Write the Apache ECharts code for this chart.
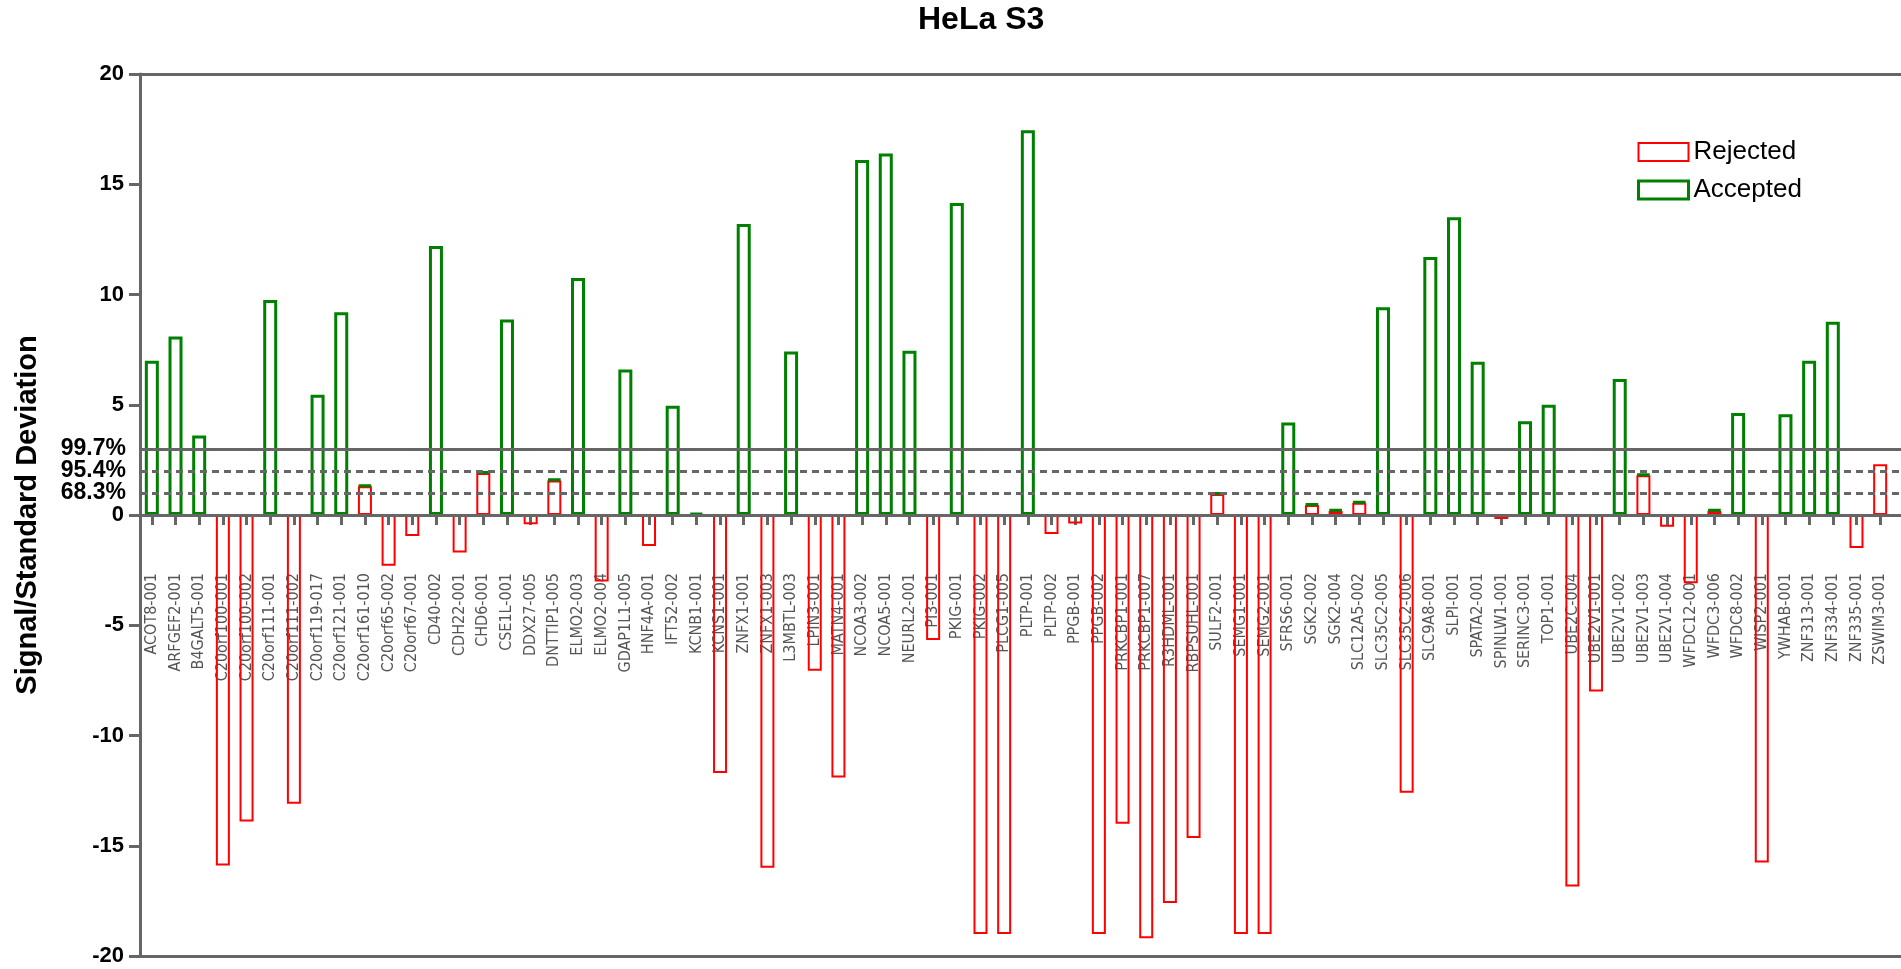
<!DOCTYPE html>
<html>
<head>
<meta charset="utf-8">
<script src="https://cdn.jsdelivr.net/npm/echarts@6/dist/echarts.min.js"></script>
<style>
  html, body { margin: 0; padding: 0; background: #ffffff; }
  #chart { width: 1901px; height: 969px; }
</style>
</head>
<body>
<div id="chart"></div>
<script>
// Gene transcripts along the x axis
const categories = [
  'ACOT8-001', 'ARFGEF2-001', 'B4GALT5-001', 'C20orf100-001', 'C20orf100-002',
  'C20orf111-001', 'C20orf111-002', 'C20orf119-017', 'C20orf121-001', 'C20orf161-010',
  'C20orf65-002', 'C20orf67-001', 'CD40-002', 'CDH22-001', 'CHD6-001',
  'CSE1L-001', 'DDX27-005', 'DNTTIP1-005', 'ELMO2-003', 'ELMO2-004',
  'GDAP1L1-005', 'HNF4A-001', 'IFT52-002', 'KCNB1-001', 'KCNS1-001',
  'ZNFX1-001', 'ZNFX1-003', 'L3MBTL-003', 'LPIN3-001', 'MATN4-001',
  'NCOA3-002', 'NCOA5-001', 'NEURL2-001', 'PI3-001', 'PKIG-001',
  'PKIG-002', 'PLCG1-005', 'PLTP-001', 'PLTP-002', 'PPGB-001',
  'PPGB-002', 'PRKCBP1-001', 'PRKCBP1-007', 'R3HDML-001', 'RBPSUHL-001',
  'SULF2-001', 'SEMG1-001', 'SEMG2-001', 'SFRS6-001', 'SGK2-002',
  'SGK2-004', 'SLC12A5-002', 'SLC35C2-005', 'SLC35C2-006', 'SLC9A8-001',
  'SLPI-001', 'SPATA2-001', 'SPINLW1-001', 'SERINC3-001', 'TOP1-001',
  'UBE2C-004', 'UBE2V1-001', 'UBE2V1-002', 'UBE2V1-003', 'UBE2V1-004',
  'WFDC12-001', 'WFDC3-006', 'WFDC8-002', 'WISP2-001', 'YWHAB-001',
  'ZNF313-001', 'ZNF334-001', 'ZNF335-001', 'ZSWIM3-001'
];

// Signal / standard deviation, rejected calls (null = no bar)
const rejected = [
  null, null, null, -15.9, -13.9,
  null, -13.1, null, null, 1.3,
  -2.3, -0.95, null, -1.7, 1.9,
  null, -0.42, 1.57, null, -3.02,
  null, -1.41, null, null, -11.7,
  null, -16.0, null, -7.06, -11.9,
  null, null, null, -5.67, null,
  -19.0, -19.0, null, -0.86, -0.38,
  -19.0, -14.0, -19.2, -17.6, -14.65,
  0.95, -19.0, -19.0, null, 0.45,
  0.18, 0.55, null, -12.6, null,
  null, null, -0.18, null, null,
  -16.85, -8.0, null, 1.8, -0.53,
  -3.1, 0.18, null, -15.76, null,
  null, null, -1.5, 2.3
];

// Signal / standard deviation, accepted calls (stacked on the rejected part)
const accepted = [
  7.0, 8.1, 3.6, null, null,
  9.75, null, 5.45, 9.2, 0.06,
  null, null, 12.2, null, 0.06,
  8.87, null, 0.06, 10.75, null,
  6.6, null, 4.96, 0.08, null,
  13.2, null, 7.42, null, null,
  16.1, 16.4, 7.45, null, 14.15,
  null, null, 17.45, null, null,
  null, null, null, null, null,
  0.06, null, null, 4.2, 0.06,
  0.06, 0.06, 9.42, null, 11.7,
  13.5, 6.95, null, 4.25, 5.0,
  null, null, 6.17, 0.06, null,
  null, 0.06, 4.63, null, 4.57,
  7.0, 8.76, null, null
];

// Confidence thresholds (in standard deviations)
const thresholdValues = [3, 2, 1];
const thresholdLabels = ['99.7%', '95.4%', '68.3%'];

const axisGrey = '#666666';
const yMin = -20, yMax = 20, yStep = 5;
const gridTop = 74, gridBottom = 13;

const chart = echarts.init(document.getElementById('chart'));

// The category axis sits on the zero line of the value axis
const plotHeight = chart.getHeight() - gridTop - gridBottom;
const zeroOffset = -plotHeight * (0 - yMin) / (yMax - yMin);

const thresholdLines = thresholdValues.map((v, i) => ({
  yAxis: v,
  label: { formatter: thresholdLabels[i] },
  lineStyle: { type: i === 0 ? 'solid' : [7, 5] }
}));
thresholdLines.push({ yAxis: 0, label: { show: false }, lineStyle: { type: 'solid' } });

chart.setOption({
  animation: false,
  backgroundColor: '#ffffff',
  title: {
    text: 'HeLa S3',
    left: 918,
    top: 4,
    padding: 0,
    textStyle: { fontFamily: 'Liberation Sans', fontWeight: 'bold', fontSize: 32, color: '#000' }
  },
  legend: {
    orient: 'vertical',
    left: 1632,
    top: 134,
    itemWidth: 50,
    itemHeight: 18,
    itemGap: 12,
    icon: 'rect',
    textStyle: { fontFamily: 'Liberation Sans', fontSize: 26, color: '#000' },
    data: [
      { name: 'Rejected', itemStyle: { color: 'rgba(0,0,0,0)', borderColor: '#ff0000', borderWidth: 2 } },
      { name: 'Accepted', itemStyle: { color: 'rgba(0,0,0,0)', borderColor: '#008000', borderWidth: 3 } }
    ]
  },
  grid: [
    { left: 140, right: 9, top: gridTop, bottom: gridBottom, containLabel: false, outerBoundsMode: 'none' },
    { left: 140, right: 0, top: gridTop, bottom: gridBottom, containLabel: false, outerBoundsMode: 'none' }
  ],
  xAxis: [
    {
      type: 'category',
      gridIndex: 0,
      data: categories,
      position: 'bottom',
      offset: zeroOffset,
      axisLine: { show: true, onZero: false, lineStyle: { color: axisGrey, width: 3 } },
      axisTick: { show: true, alignWithLabel: true, length: 10, lineStyle: { color: axisGrey, width: 3 } },
      axisLabel: {
        show: true,
        interval: 0,
        rotate: 90,
        margin: 58,
        fontFamily: 'Liberation Sans Narrow, DejaVu Sans Condensed, sans-serif',
        fontSize: 16,
        color: '#555555'
      },
      splitLine: { show: false }
    },
    {
      type: 'value', gridIndex: 1, position: 'top', min: 0, max: 1,
      axisLine: { show: true, onZero: false, lineStyle: { color: axisGrey, width: 3 } },
      axisTick: { show: false }, axisLabel: { show: false }, splitLine: { show: false }
    },
    {
      type: 'value', gridIndex: 1, position: 'bottom', min: 0, max: 1,
      axisLine: { show: true, onZero: false, lineStyle: { color: axisGrey, width: 3 } },
      axisTick: { show: false }, axisLabel: { show: false }, splitLine: { show: false }
    }
  ],
  yAxis: [
    {
      type: 'value',
      gridIndex: 0,
      min: yMin,
      max: yMax,
      interval: yStep,
      name: 'Signal/Standard Deviation',
      nameLocation: 'middle',
      nameGap: 98,
      nameTextStyle: { fontFamily: 'Liberation Sans', fontWeight: 'bold', fontSize: 29, color: '#000' },
      axisLine: { show: true, onZero: false, lineStyle: { color: axisGrey, width: 3 } },
      axisTick: { show: true, length: 11, lineStyle: { color: axisGrey, width: 3 } },
      axisLabel: { margin: 16, fontFamily: 'Liberation Sans', fontWeight: 'bold', fontSize: 22, color: '#000' },
      splitLine: { show: false }
    },
    {
      type: 'value', gridIndex: 1, min: yMin, max: yMax, show: false
    }
  ],
  series: [
    {
      name: 'Rejected',
      type: 'bar',
      xAxisIndex: 0,
      yAxisIndex: 0,
      stack: 'total',
      barWidth: 14,
      data: rejected,
      itemStyle: { color: 'rgba(0,0,0,0)', borderColor: '#ff0000', borderWidth: 2 }
    },
    {
      name: 'Accepted',
      type: 'bar',
      xAxisIndex: 0,
      yAxisIndex: 0,
      stack: 'total',
      barWidth: 14,
      data: accepted,
      itemStyle: { color: 'rgba(0,0,0,0)', borderColor: '#008000', borderWidth: 3 }
    },
    {
      name: 'thresholds',
      type: 'line',
      xAxisIndex: 1,
      yAxisIndex: 1,
      data: [],
      silent: true,
      markLine: {
        silent: true,
        symbol: 'none',
        animation: false,
        lineStyle: { color: axisGrey, width: 3 },
        label: {
          position: 'start',
          distance: 14,
          fontFamily: 'Liberation Sans',
          fontWeight: 'bold',
          fontSize: 23,
          color: '#000'
        },
        data: thresholdLines
      }
    }
  ]
});
</script>
</body>
</html>
